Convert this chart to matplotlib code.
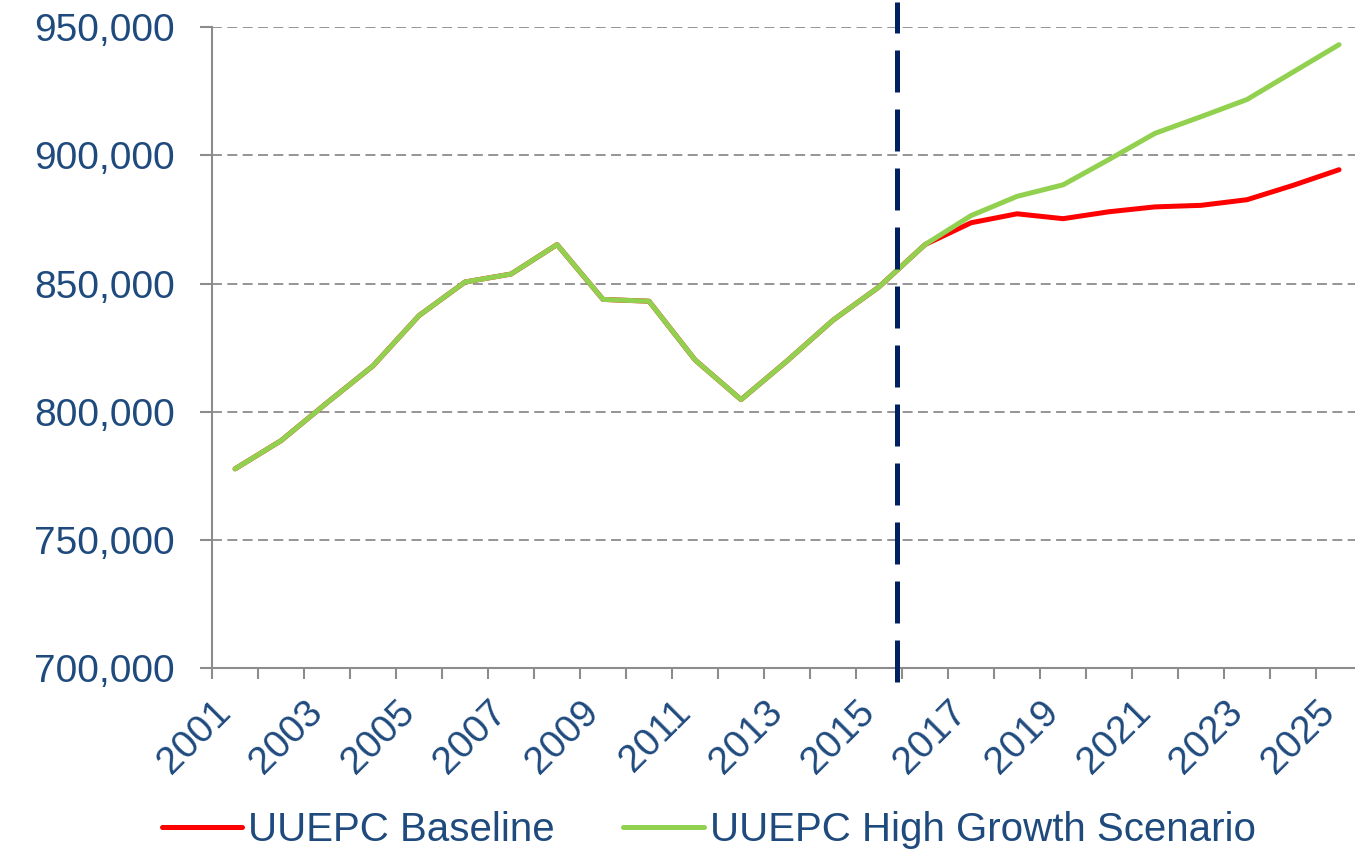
import matplotlib
matplotlib.use('Agg')
import matplotlib.pyplot as plt
import matplotlib.transforms as mtransforms
from matplotlib.ticker import FuncFormatter, FixedLocator

plt.rcParams['font.family'] = ['Liberation Sans', 'DejaVu Sans']

#%% data
years = list(range(2001, 2026))
baseline = [777700, 788700, 803500, 817900, 837500, 850600, 853700, 865200,
            843800, 843100, 820200, 804700, 819800, 835700, 848700, 865200,
            873700, 877200, 875300, 878000, 879900, 880500, 882700, 888300, 894400]
high_growth = [777700, 788700, 803500, 817900, 837500, 850600, 853700, 865200,
               843800, 843100, 820200, 804700, 819800, 835700, 848700, 865200,
               876500, 884000, 888500, 898400, 908600, 915100, 921800, 932500, 943200]
split_pos = 14.4   # dashed line between 2015 and 2016

txt_col = '#1F4A7E'
ax_col = '#8C8C8C'
fs = 28

#%% plot
fig = plt.figure(figsize=(13.55, 8.5), dpi=100)
ax = fig.add_axes([0.1565, 0.2141, 0.8487, 0.7539])

x = list(range(len(years)))
ax.plot(x, baseline, color='#FF0000', lw=3.6, solid_capstyle='round', label='UUEPC Baseline', zorder=3)
ax.plot(x, high_growth, color='#92D050', lw=3.6, solid_capstyle='round', label='UUEPC High Growth Scenario', zorder=4)

ax.axvline(split_pos, ymin=-0.022, ymax=1.04, color='#002060', lw=3.6,
           dashes=(8.4, 3.4), clip_on=False, zorder=5)

ax.set_xlim(-0.5, len(years) - 0.5)
ax.set_ylim(700000, 950000)
ax.set_yticks([700000, 750000, 800000, 850000, 900000, 950000])
ax.yaxis.set_major_formatter(FuncFormatter(lambda v, p: '{:,.0f}'.format(v)))
ax.grid(axis='y', color=ax_col, ls=(0, (5.5, 3)), lw=1.3)
ax.set_axisbelow(True)

# ticks at category boundaries, labels every second year at centres
ax.xaxis.set_major_locator(FixedLocator([i - 0.5 for i in range(len(years) + 1)]))
ax.xaxis.set_major_formatter(FuncFormatter(lambda v, p: ''))
ax.xaxis.set_minor_locator(FixedLocator(x[::2]))
ax.set_xticklabels([str(y) for y in years[::2]], minor=True)
ax.tick_params(axis='x', which='major', length=8, width=1.5, color=ax_col, direction='out')
ax.tick_params(axis='x', which='minor', length=0, pad=28, labelsize=fs, labelcolor=txt_col)
shift = mtransforms.ScaledTranslation(-0.10, 0, fig.dpi_scale_trans)
for lab in ax.get_xticklabels(minor=True):
    lab.set_rotation(45)
    lab.set_rotation_mode('anchor')
    lab.set_ha('right')
    lab.set_va('center')
    lab.set_transform(lab.get_transform() + shift)
ax.tick_params(axis='y', length=9, width=1.5, color=ax_col, pad=18, labelsize=fs, labelcolor=txt_col)

for s in ['top', 'right']:
    ax.spines[s].set_visible(False)
for s in ['left', 'bottom']:
    ax.spines[s].set_color(ax_col)
    ax.spines[s].set_linewidth(1.5)

fig.legend(loc='center', bbox_to_anchor=(0.523, 0.024), ncol=2, frameon=False,
           fontsize=29, labelcolor=txt_col, handlelength=2.0, handletextpad=0.15,
           columnspacing=1.7, borderaxespad=0)

plt.savefig('out.png', dpi=100)
